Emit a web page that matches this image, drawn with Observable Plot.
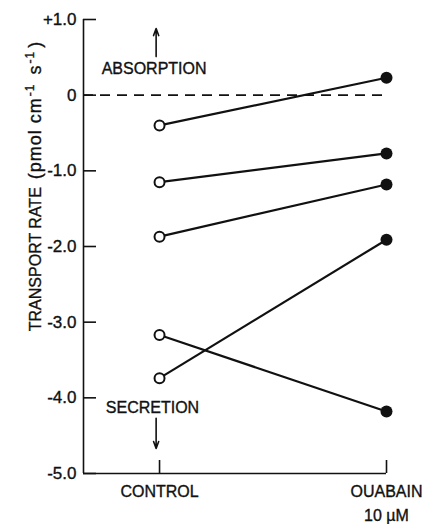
<!DOCTYPE html>
<html><head><meta charset="utf-8">
<script src="https://cdn.jsdelivr.net/npm/d3@7"></script>
<script src="https://cdn.jsdelivr.net/npm/@observablehq/plot@0.6"></script>
<style>
body{margin:0;background:#fff;}
#chart svg{font-family:"Liberation Sans",Arial,Helvetica,sans-serif;}
#chart svg text{stroke:#111;stroke-width:0.35px;}
</style></head><body><div id="chart"></div>
<script>
// ---- data ----
const conditions = ["CONTROL", "OUABAIN\n10 µM"];
const conditionPos = [0, 1];
const controlRate = [-0.40, -1.15, -1.87, -3.17, -3.74];
const ouabainRate = [0.23, -0.77, -1.18, -4.18, -1.91];
const yTicks = [1, 0, -1, -2, -3, -4, -5];
const yTickLabels = ["+1.0", "0", "-1.0", "-2.0", "-3.0", "-4.0", "-5.0"];
const noteText = ["ABSORPTION", "SECRETION"];
const noteX = [-0.024, -0.031];
const noteY = [0.35, -4.13];
const arrowX = [-0.015, -0.015];
const arrowFrom = [0.51, -4.27];
const arrowTo = [0.88, -4.67];
const yTitle = "TRANSPORT RATE (pmol cm-1 s-1)";
const xDomain = [-0.335, 1];
const yDomain = [-5, 1];

// ---- derived tables ----
const pairs = controlRate.map((c, i) => ({control: c, ouabain: ouabainRate[i]}));
const arrows = arrowX.map((x, i) => ({x, y1: arrowFrom[i], y2: arrowTo[i]}));
const ink = "#111";

const plot = Plot.plot({
  width: 425, height: 524,
  marginLeft: 83, marginRight: 39, marginTop: 19, marginBottom: 51,
  x: {domain: xDomain},
  y: {domain: yDomain},
  style: {background: "white", color: ink},
  marks: [
    Plot.ruleY([0], {stroke: ink, strokeWidth: 1.6, strokeDasharray: "10,7"}),
    Plot.ruleX([xDomain[0]], {stroke: ink, strokeWidth: 1.6}),
    Plot.ruleY([yDomain[0]], {stroke: ink, strokeWidth: 1.6}),
    Plot.tickY(yTicks, {y: d => d, insetRight: 290, stroke: ink, strokeWidth: 1.6}),
    Plot.tickX(conditionPos, {x: d => d, insetTop: 441, stroke: ink, strokeWidth: 1.6}),
    Plot.axisY({ticks: yTicks, tickSize: 0, tickPadding: 7, fontSize: 17,
      tickFormat: d => yTickLabels[yTicks.indexOf(d)], label: null}),
    Plot.axisX({ticks: conditionPos, tickSize: 0, tickPadding: 6, fontSize: 16, lineHeight: 1.5,
      tickFormat: d => conditions[conditionPos.indexOf(d)], label: null}),
    Plot.link(pairs, {x1: () => conditionPos[0], x2: () => conditionPos[1],
      y1: "control", y2: "ouabain", stroke: ink, strokeWidth: 2.2}),
    Plot.dot(pairs, {x: () => conditionPos[0], y: "control", r: 5, stroke: ink, strokeWidth: 2, fill: "white"}),
    Plot.dot(pairs, {x: () => conditionPos[1], y: "ouabain", r: 6, fill: ink}),
    Plot.arrow(arrows, {x1: "x", x2: "x", y1: "y1", y2: "y2", stroke: ink,
      strokeWidth: 1.6, headLength: 7, headAngle: 40}),
    Plot.text(noteText, {x: (d, i) => noteX[i], y: (d, i) => noteY[i], text: d => d,
      fontSize: 16, fill: ink}),
    Plot.text([yTitle], {frameAnchor: "left", textAnchor: "middle", rotate: -90, dx: -48, dy: -60,
      text: d => d, fontSize: 16, fill: ink})
  ]
});
document.getElementById("chart").append(plot);

// superscripts in the axis title
d3.select(plot).selectAll("text").filter(function() { return this.textContent === yTitle; })
  .each(function() {
    const t = d3.select(this);
    t.text(null);
    t.append("tspan").text("TRANSPORT RATE");
    t.append("tspan").attr("font-size", 18).attr("letter-spacing", 1).attr("dx", 2).text(" (pmol cm");
    t.append("tspan").attr("dy", -7).attr("dx", 1).attr("font-size", 12).attr("letter-spacing", 1).text("-1");
    t.append("tspan").attr("dy", 7).attr("dx", 3).attr("font-size", 18).attr("letter-spacing", 1).text(" s");
    t.append("tspan").attr("dy", -7).attr("dx", 1).attr("font-size", 12).attr("letter-spacing", 1).text("-1");
    t.append("tspan").attr("dy", 7).attr("dx", 3).attr("font-size", 18).text(")");
  });
</script></body></html>
